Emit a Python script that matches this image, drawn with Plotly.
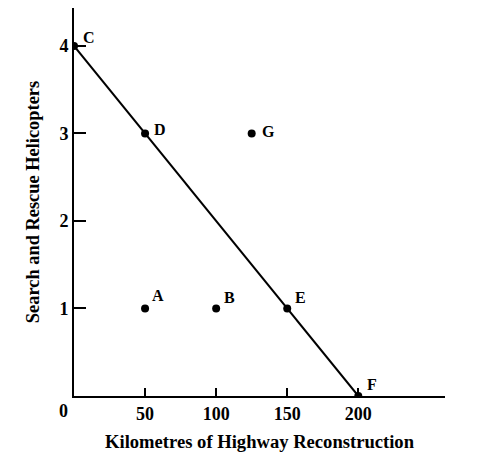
import plotly.graph_objects as go

# Data
point_labels = ["A", "B", "C", "D", "E", "F", "G"]
point_x = [50, 100, 0, 50, 150, 200, 125]
point_y = [1, 1, 4, 3, 1, 0, 3]
ppf_x = [0, 200]
ppf_y = [4, 0]
x_ticks = [50, 100, 150, 200]
y_ticks = [1, 2, 3, 4]

label_offsets = {"A": (13, 13), "B": (13, 11), "C": (15, 8), "D": (15, 4),
                 "E": (13, 11), "F": (14, 12), "G": (17, 2)}

font_fam = "Liberation Serif, Times New Roman, serif"

fig = go.Figure()
fig.add_trace(go.Scatter(x=ppf_x, y=ppf_y, mode="lines",
                         line=dict(color="black", width=2), hoverinfo="skip"))
fig.add_trace(go.Scatter(x=point_x, y=point_y, mode="markers",
                         marker=dict(color="black", size=8), hoverinfo="skip"))

for lab, px, py in zip(point_labels, point_x, point_y):
    dx, dy = label_offsets[lab]
    fig.add_annotation(x=px, y=py, text=f"<b>{lab}</b>", showarrow=False,
                       xshift=dx, yshift=dy,
                       font=dict(family=font_fam, size=16, color="black"))

fig.add_annotation(x=0, y=0, text="<b>0</b>", showarrow=False, xref="x", yref="y",
                   xshift=-11, yshift=-15,
                   font=dict(family=font_fam, size=18, color="black"))

# page body has an 8px margin, so the figure is offset by (8, 8)
fig.update_layout(
    width=481, height=457,
    margin=dict(l=66, r=44, t=0, b=69),
    paper_bgcolor="white", plot_bgcolor="white",
    showlegend=False,
    font=dict(family=font_fam, size=18, color="black"),
    xaxis=dict(range=[0, 261], tickvals=x_ticks,
               ticktext=[f"<b>{v}</b>" for v in x_ticks],
               tickfont=dict(size=18),
               ticks="inside", ticklen=8, tickwidth=2, tickcolor="black",
               showline=True, linecolor="black", linewidth=2,
               showgrid=False, zeroline=False, automargin=False,
               title=dict(text="<b>Kilometres of Highway Reconstruction</b>",
                          standoff=12, font=dict(size=18.6))),
    yaxis=dict(range=[0, 4.434], tickvals=y_ticks,
               ticktext=[f"<b>{v}</b>" for v in y_ticks],
               tickfont=dict(size=18),
               ticks="inside", ticklen=12, tickwidth=2, tickcolor="black",
               showline=True, linecolor="black", linewidth=2,
               showgrid=False, zeroline=False, automargin=False,
               title=dict(text="<b>Search and Rescue Helicopters</b>",
                          standoff=15, font=dict(size=18.4))),
)

fig.write_html("out.html")
